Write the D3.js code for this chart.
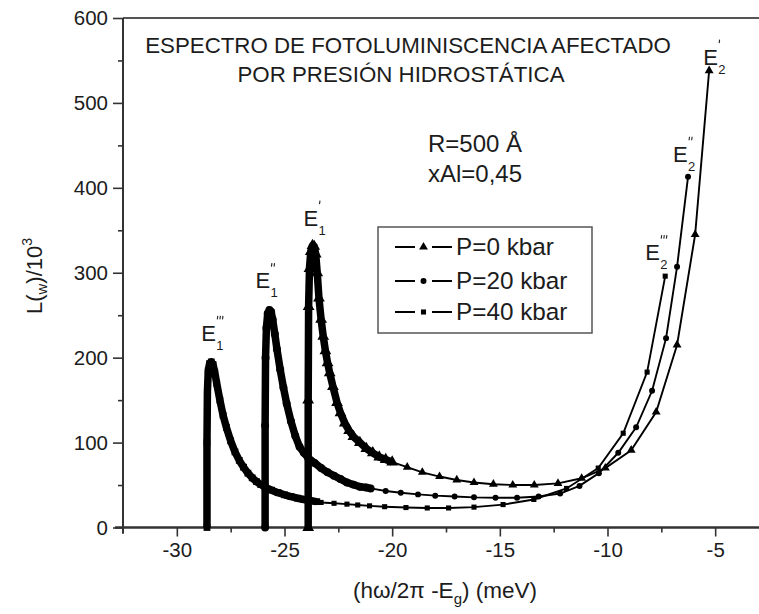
<!DOCTYPE html>
<html>
<head>
<meta charset="utf-8">
<script src="https://cdn.jsdelivr.net/npm/d3@7"></script>
<style>
  body { margin: 0; background: #fff; }
  svg { display: block; }
  text { font-family: "Liberation Sans", Arial, Helvetica, sans-serif; fill: #1c1c1c; }
</style>
</head>
<body>
<svg id="chart" width="759" height="614"></svg>
<script>
// ---- Axis ticks ----
const xMajorTicks = [-30, -25, -20, -15, -10, -5];
const xMinorTicks = [-27.5, -22.5, -17.5, -12.5, -7.5, -2.5];
const yMajorTicks = [0, 100, 200, 300, 400, 500, 600];
const yMinorTicks = [50, 150, 250, 350, 450, 550];

// ---- P = 0 kbar : dense peak region (E'1) and marked tail (up to E'2) ----
const p0BandX = [-23.90, -23.90, -23.88, -23.84, -23.78, -23.70, -23.62, -23.55, -23.48, -23.40,
                 -23.30, -23.20, -23.10, -23.00, -22.90, -22.75, -22.56, -22.40, -22.20, -22.00,
                 -21.80, -21.50, -21.20, -20.90, -20.60, -20.30, -20.00];
const p0BandY = [0, 150, 260, 305, 325, 332, 331, 322, 300, 270,
                 245, 225, 208, 194, 182, 166, 147, 135, 123, 114,
                 107, 100, 93, 88, 83, 80, 77];
const p0TailX = [-20.0, -19.3, -18.6, -17.8, -17.0, -16.2, -15.3, -14.4, -13.4, -12.3,
                 -11.2, -10.1, -8.9, -7.74, -6.77, -5.93, -5.28];
const p0TailY = [77, 71, 65, 60, 56, 53, 51, 50, 50, 52,
                 58, 70, 91, 136, 215, 345, 538];

// ---- P = 20 kbar (E''1 ... E''2) ----
const p20BandX = [-25.90, -25.90, -25.88, -25.84, -25.78, -25.70, -25.62, -25.55, -25.45, -25.35,
                  -25.20, -25.05, -24.90, -24.70, -24.50, -24.30, -24.10, -23.90, -23.60, -23.30,
                  -23.00, -22.70, -22.40, -22.10, -21.80, -21.50, -21.20, -21.00];
const p20BandY = [0, 120, 200, 235, 252, 256, 254, 245, 228, 210,
                  186, 165, 146, 125, 108, 95, 88, 82, 76, 70,
                  65, 61, 57, 53, 50.5, 48, 47, 46];
const p20TailX = [-21.0, -20.3, -19.6, -18.8, -18.0, -17.1, -16.2, -15.2, -14.2, -13.2,
                  -12.2, -11.3, -10.4, -9.5, -8.67, -7.93, -7.28, -6.77, -6.26];
const p20TailY = [46, 43, 41, 39, 37.5, 36.5, 35.5, 35, 35, 36.5,
                  40, 49, 64, 88, 118, 161, 223, 307, 413];

// ---- P = 40 kbar (E'''1 ... E'''2) ----
const p40BandX = [-28.60, -28.60, -28.58, -28.54, -28.48, -28.40, -28.32, -28.24, -28.15, -28.00,
                  -27.85, -27.70, -27.50, -27.30, -27.10, -26.90, -26.70, -26.50, -26.30, -26.10,
                  -25.90, -25.60, -25.30, -25.00, -24.70, -24.40, -24.10, -23.80, -23.50];
const p40BandY = [0, 100, 160, 185, 193, 195, 192, 183, 170, 150,
                  132, 118, 102, 89, 79, 71, 64, 58.5, 54, 50.5,
                  47.5, 44, 41, 38.5, 36.5, 34.5, 33, 31.5, 30.5];
const p40TailX = [-23.5, -23.3, -22.7, -22.1, -21.6, -21.05, -20.35, -19.36, -18.37, -17.38,
                  -16.2, -14.85, -13.42, -11.9, -10.43, -9.27, -8.16, -7.32];
const p40TailY = [30.5, 29.5, 28.5, 27.5, 26.5, 25.5, 24.5, 23.5, 23, 23,
                  24, 27, 33, 46, 70, 111, 183, 296];

const seriesNames = ["P=0 kbar", "P=20 kbar", "P=40 kbar"];

// ---- Layout ----
const svg = d3.select("#chart");
const plot = { left: 123, right: 769, top: 18, bottom: 527.5 };
const x = d3.scaleLinear().domain([-32.5, -2.5]).range([plot.left, plot.right]);
const y = d3.scaleLinear().domain([0, 600]).range([plot.bottom, plot.top]);

const series = [
  { name: seriesNames[0], bandX: p0BandX, bandY: p0BandY, tailX: p0TailX, tailY: p0TailY,
    symbol: d3.symbolTriangle, size: 34, bandSize: 60 },
  { name: seriesNames[1], bandX: p20BandX, bandY: p20BandY, tailX: p20TailX, tailY: p20TailY,
    symbol: d3.symbolCircle, size: 28, bandSize: 50 },
  { name: seriesNames[2], bandX: p40BandX, bandY: p40BandY, tailX: p40TailX, tailY: p40TailY,
    symbol: d3.symbolSquare, size: 26, bandSize: 46 }
];

const zip = (xs, ys) => xs.map((v, i) => [v, ys[i]]);
const line = d3.line().x(d => x(d[0])).y(d => y(d[1]));

// ---- Frame ----
svg.append("line").attr("x1", plot.left).attr("x2", plot.right)
  .attr("y1", plot.top).attr("y2", plot.top)
  .attr("stroke", "#555").attr("stroke-width", 2);
svg.append("line").attr("x1", plot.right).attr("x2", plot.right)
  .attr("y1", plot.top).attr("y2", plot.bottom)
  .attr("stroke", "#555").attr("stroke-width", 2);

// ---- Axes ----
const xAxisG = svg.append("g").attr("transform", `translate(0,${plot.bottom})`);
xAxisG.call(d3.axisBottom(x).tickValues(xMinorTicks).tickSize(5).tickFormat(""));
xAxisG.append("g").call(d3.axisBottom(x).tickValues(xMajorTicks).tickSize(9).tickPadding(6)
  .tickFormat(d => String(d)));
xAxisG.selectAll(".domain").attr("stroke", "#333").attr("stroke-width", 2)
  .attr("d", `M${plot.left - 8},0H${plot.right}`);
xAxisG.selectAll(".tick line").attr("stroke", "#333").attr("stroke-width", 1.6);
xAxisG.selectAll(".tick text").attr("font-size", 20.5)
  .attr("font-family", "Liberation Sans, Arial, sans-serif").attr("fill", "#1c1c1c");

const yAxisG = svg.append("g").attr("transform", `translate(${plot.left},0)`);
yAxisG.call(d3.axisLeft(y).tickValues(yMinorTicks).tickSize(5).tickFormat(""));
yAxisG.append("g").call(d3.axisLeft(y).tickValues(yMajorTicks).tickSize(10).tickPadding(5)
  .tickFormat(d => String(d)));
yAxisG.selectAll(".domain").attr("stroke", "#333").attr("stroke-width", 2)
  .attr("d", `M0,${plot.top}V${plot.bottom + 6}`);
yAxisG.selectAll(".tick line").attr("stroke", "#333").attr("stroke-width", 1.6);
yAxisG.selectAll(".tick text").attr("font-size", 20.5)
  .attr("font-family", "Liberation Sans, Arial, sans-serif").attr("fill", "#1c1c1c");

// ---- Curves ----
const curves = svg.append("g");
series.forEach(s => {
  const band = zip(s.bandX, s.bandY);
  const tail = zip(s.tailX, s.tailY);
  const g = curves.append("g");
  // thin connecting line through every point
  g.append("path").datum(band.concat(tail)).attr("d", line)
    .attr("fill", "none").attr("stroke", "#000").attr("stroke-width", 1.9);
  // densely sampled peak region reads as a heavy band
  g.append("path").datum(band).attr("d", line)
    .attr("fill", "none").attr("stroke", "#000").attr("stroke-width", 7.5)
    .attr("stroke-linejoin", "round");
  g.selectAll("path.bandsym").data(band).join("path").attr("class", "bandsym")
    .attr("transform", d => `translate(${x(d[0])},${y(d[1])})`)
    .attr("d", d3.symbol().type(s.symbol).size(s.bandSize)).attr("fill", "#000");
  g.selectAll("path.sym").data(tail).join("path").attr("class", "sym")
    .attr("transform", d => `translate(${x(d[0])},${y(d[1])})`)
    .attr("d", d3.symbol().type(s.symbol).size(s.size)).attr("fill", "#000");
});

// ---- Peak labels: E with prime marks and level subscript ----
function peakLabel(px, py, primes, sub) {
  const g = svg.append("g").attr("transform", `translate(${px},${py})`);
  g.append("text").attr("x", 0).attr("y", 0).attr("font-size", 22).text("E");
  d3.range(primes).forEach(k => {
    g.append("line").attr("x1", 16.5 + k * 2.6).attr("x2", 16 + k * 2.6)
      .attr("y1", -25).attr("y2", -21.5)
      .attr("stroke", "#222").attr("stroke-width", 1.1);
  });
  g.append("text").attr("x", 15).attr("y", 9).attr("font-size", 13).text(sub);
}
const pk0 = d3.maxIndex(p0BandY), pk20 = d3.maxIndex(p20BandY), pk40 = d3.maxIndex(p40BandY);
peakLabel(x(p0BandX[pk0]) - 9, y(p0BandY[pk0]) - 20, 1, "1");
peakLabel(x(p20BandX[pk20]) - 14, y(p20BandY[pk20]) - 22, 2, "1");
peakLabel(x(p40BandX[pk40]) - 10, y(p40BandY[pk40]) - 21, 3, "1");
const last = a => a[a.length - 1];
peakLabel(x(last(p0TailX)) - 6, y(last(p0TailY)) - 6, 1, "2");
peakLabel(x(last(p20TailX)) - 15, y(last(p20TailY)) - 15, 2, "2");
peakLabel(x(last(p40TailX)) - 20, y(last(p40TailY)) - 16, 3, "2");

// ---- Titles / annotations ----
svg.append("text").attr("x", 408).attr("y", 53).attr("text-anchor", "middle").attr("font-size", 22.3)
  .text("ESPECTRO DE FOTOLUMINISCENCIA AFECTADO");
svg.append("text").attr("x", 401).attr("y", 82).attr("text-anchor", "middle").attr("font-size", 22.3)
  .text("POR PRESIÓN HIDROSTÁTICA");
svg.append("text").attr("x", 428).attr("y", 152).attr("font-size", 24).text("R=500 Å");
svg.append("text").attr("x", 428).attr("y", 182).attr("font-size", 24).text("xAl=0,45");

// ---- Legend ----
const lg = svg.append("g");
lg.append("rect").attr("x", 378).attr("y", 227).attr("width", 214).attr("height", 106)
  .attr("fill", "#fff").attr("stroke", "#555").attr("stroke-width", 1.5);
const rowY = [247, 281, 312];
series.forEach((s, i) => {
  const ry = rowY[i];
  lg.append("line").attr("x1", 395).attr("x2", 415).attr("y1", ry).attr("y2", ry)
    .attr("stroke", "#000").attr("stroke-width", 2);
  lg.append("line").attr("x1", 432).attr("x2", 452).attr("y1", ry).attr("y2", ry)
    .attr("stroke", "#000").attr("stroke-width", 2);
  lg.append("path").attr("transform", `translate(423.5,${ry})`)
    .attr("d", d3.symbol().type(s.symbol).size(s.size)).attr("fill", "#000");
  lg.append("text").attr("x", 456).attr("y", ry + 8).attr("font-size", 24.3).text(s.name);
});

// ---- Axis titles ----
const yt = svg.append("text").attr("transform", "translate(42,276) rotate(-90)")
  .attr("text-anchor", "middle").attr("font-size", 22);
yt.append("tspan").text("L(");
yt.append("tspan").attr("font-size", 15).attr("dy", 5).text("w");
yt.append("tspan").attr("dy", -5).text(")/10");
yt.append("tspan").attr("font-size", 14).attr("dy", -10).text("3");

const xt = svg.append("text").attr("x", 445).attr("y", 598)
  .attr("text-anchor", "middle").attr("font-size", 22.5);
xt.append("tspan").text("(hω/2π -E");
xt.append("tspan").attr("font-size", 15).attr("dy", 6).text("g");
xt.append("tspan").attr("dy", -6).text(") (meV)");
</script>
</body>
</html>
